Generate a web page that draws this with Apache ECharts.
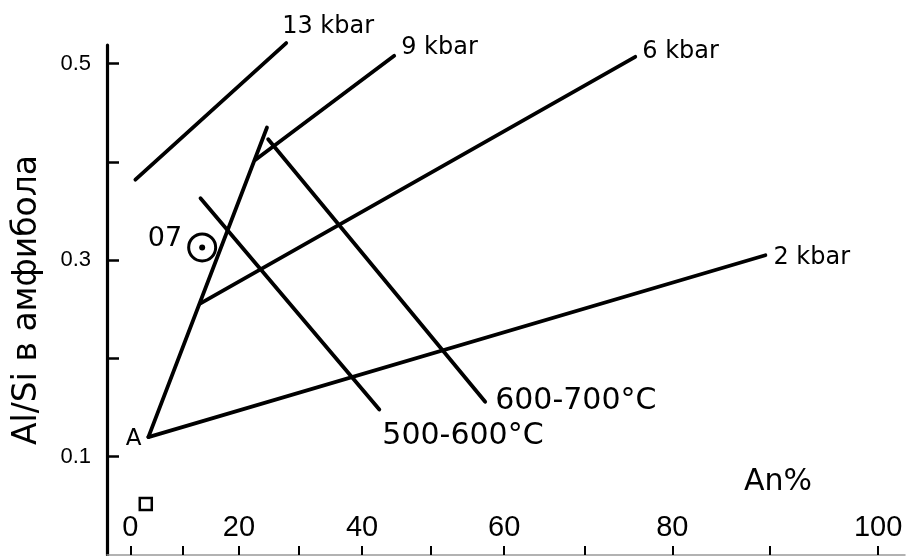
<!DOCTYPE html>
<html>
<head>
<meta charset="utf-8">
<script src="https://cdn.jsdelivr.net/npm/echarts@6/dist/echarts.min.js"></script>
<style>
html,body{margin:0;padding:0;background:#fff;}
#chart{width:909px;height:556px;}
</style>
</head>
<body>
<div id="chart"></div>
<script>
// ---- data (An% , Al/Si) ----
const line13kbar = [[1.0, 0.382], [28.0, 0.521]];
const line9kbar  = [[22.8, 0.402], [44.8, 0.508]];
const line6kbar  = [[13.2, 0.256], [75.9, 0.507]];
const line2kbar  = [[3.5, 0.120], [89.6, 0.305]];
const boundaryA  = [[3.5, 0.120], [24.8, 0.435]];
const iso500_600 = [[13.2, 0.363], [42.6, 0.148]];
const iso600_700 = [[25.0, 0.423], [57.5, 0.156]];
const sample07   = [13.5, 0.313];
const squarePt   = [3.0, 0.052];

const xTickValues  = [0, 10, 20, 30, 40, 50, 60, 70, 80, 90, 100];
const xLabelValues = [0, 20, 40, 60, 80, 100];
const yTickValues  = [0.1, 0.2, 0.3, 0.4, 0.5];
const yLabelValues = [0.1, 0.3, 0.5];

// The An% axis of the original drawing is non-uniform (spacing grows toward 100);
// it is reproduced with a reversed logarithmic scale of (K - An%).
const K = 180;
const xAxisMin = -4.6, xAxisMax = 102.3;
const toU = v => K - v;

const FONT = 'DejaVu Sans';

function lineSeries(name, pts, endLabel, labelOpts) {
  const data = pts.map(p => ({value: [toU(p[0]), p[1]]}));
  if (endLabel) {
    const idx = labelOpts.index != null ? labelOpts.index : data.length - 1;
    data[idx].label = Object.assign({
      show: true, formatter: endLabel, distance: 0,
      color: '#000', fontFamily: FONT
    }, labelOpts.label);
  }
  return {
    name: name, type: 'line', data: data, clip: false,
    symbol: 'circle', symbolSize: 2, showSymbol: true,
    itemStyle: {color: '#000', opacity: 1},
    lineStyle: {color: '#000', width: 3.8, cap: 'round', opacity: 1},
    label: {show: false},
    z: 3, silent: true
  };
}

const chart = echarts.init(document.getElementById('chart'), null, {renderer: 'canvas'});
chart.setOption({
  animation: false,
  backgroundColor: '#fff',
  grid: {left: 107, right: 4, top: 45, bottom: 1, containLabel: false, outerBoundsMode: 'none'},
  xAxis: {
    type: 'log', logBase: 10, inverse: true,
    min: toU(xAxisMax), max: toU(xAxisMin),
    axisLine: {show: true, lineStyle: {color: '#999', width: 1.5}},
    axisTick: {show: true, inside: true, length: 9, customValues: xTickValues.map(toU),
               lineStyle: {color: '#000', width: 2}},
    axisLabel: {show: true, inside: true, margin: 13, customValues: xLabelValues.map(toU),
                formatter: v => String(Math.round(K - v)),
                color: '#000', fontFamily: 'Liberation Sans', fontSize: 29},
    splitLine: {show: false}, minorTick: {show: false}
  },
  yAxis: {
    type: 'value', min: 0, max: 0.519, interval: 0.1,
    name: 'Al/Si в амфибола', nameLocation: 'middle', nameRotate: 90, nameGap: 63,
    nameTextStyle: {color: '#000', fontFamily: FONT, fontSize: 33},
    axisLine: {show: true, lineStyle: {color: '#000', width: 3.2}},
    axisTick: {show: true, inside: true, length: 12, customValues: yTickValues,
               lineStyle: {color: '#000', width: 2.5}},
    axisLabel: {show: true, margin: 16, customValues: yLabelValues,
                formatter: v => v.toFixed(1),
                color: '#000', fontFamily: 'Liberation Sans', fontSize: 22},
    splitLine: {show: false}
  },
  graphic: [{
    type: 'text', x: 744, y: 482,
    style: {text: 'An%', fill: '#000', font: '30px "DejaVu Sans"', verticalAlign: 'middle', align: 'left'}
  }],
  series: [
    lineSeries('13 kbar', line13kbar, '13 kbar', {label: {position: 'right', offset: [-5, -16], fontSize: 24}}),
    lineSeries('9 kbar', line9kbar, '9 kbar', {label: {position: 'right', offset: [6, -8], fontSize: 24}}),
    lineSeries('6 kbar', line6kbar, '6 kbar', {label: {position: 'right', offset: [6, -5], fontSize: 24}}),
    lineSeries('2 kbar', line2kbar, '2 kbar', {label: {position: 'right', offset: [7, 2], fontSize: 24}}),
    lineSeries('A', boundaryA, 'A', {index: 0, label: {position: 'left', offset: [-6, 2], fontSize: 23}}),
    lineSeries('500-600°C', iso500_600, '500-600°C', {label: {position: 'right', offset: [2, 27], fontSize: 30}}),
    lineSeries('600-700°C', iso600_700, '600-700°C', {label: {position: 'right', offset: [9, -1], fontSize: 30}}),
    {
      name: '07', type: 'scatter', silent: true, clip: false,
      data: [{value: [toU(sample07[0]), sample07[1]],
              label: {show: true, formatter: '07', position: 'left', distance: 0, offset: [-5, -8],
                      color: '#000', fontFamily: FONT, fontSize: 27}}],
      symbol: 'circle', symbolSize: 27,
      itemStyle: {color: '#fff', borderColor: '#000', borderWidth: 3, opacity: 1}, z: 4
    },
    {
      name: '07 centre', type: 'scatter', silent: true, clip: false,
      data: [[toU(sample07[0]), sample07[1]]],
      symbol: 'circle', symbolSize: 6, itemStyle: {color: '#000', opacity: 1}, z: 5
    },
    {
      name: 'square', type: 'scatter', silent: true, clip: false,
      data: [[toU(squarePt[0]), squarePt[1]]],
      symbol: 'rect', symbolSize: 12,
      itemStyle: {color: '#fff', borderColor: '#000', borderWidth: 2.5, opacity: 1}, z: 4
    }
  ]
});
</script>
</body>
</html>
